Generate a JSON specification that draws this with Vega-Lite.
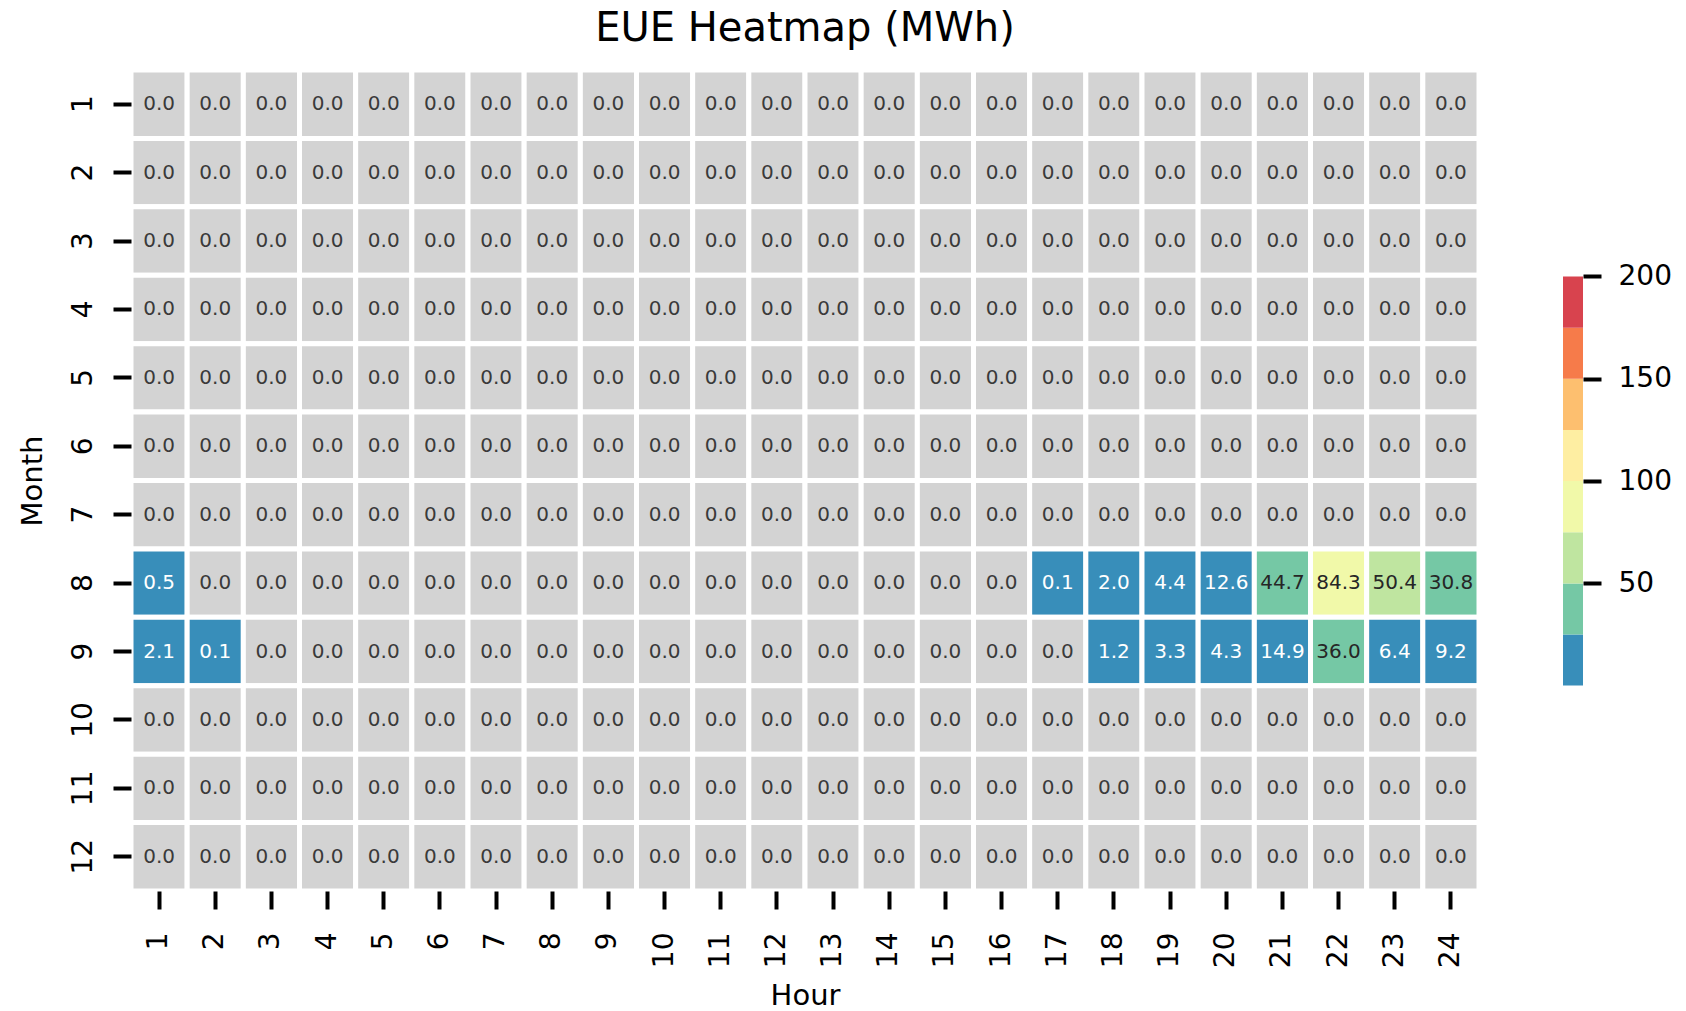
{
 "$schema": "https://vega.github.io/schema/vega-lite/v6.json",
 "padding": {"left": 17, "top": 8, "right": 5, "bottom": 2},
 "background": "white",
 "config": {"font": "DejaVu Sans", "view": {"stroke": null}},
 "bounds": "flush",
 "spacing": 84,
 "resolve": {"scale": {"color": "independent", "y": "independent"}},
 "hconcat": [
  {
   "title": {"text": "EUE Heatmap (MWh)", "fontSize": 40, "fontWeight": "normal", "baseline": "alphabetic", "offset": -13, "anchor": "middle", "color": "black"},
   "width": 1348,
   "height": 821,
   "data": {"values": [
{"Month":1,"Hour":1,"EUE":0},{"Month":1,"Hour":2,"EUE":0},{"Month":1,"Hour":3,"EUE":0},{"Month":1,"Hour":4,"EUE":0},{"Month":1,"Hour":5,"EUE":0},{"Month":1,"Hour":6,"EUE":0},{"Month":1,"Hour":7,"EUE":0},{"Month":1,"Hour":8,"EUE":0},{"Month":1,"Hour":9,"EUE":0},{"Month":1,"Hour":10,"EUE":0},{"Month":1,"Hour":11,"EUE":0},{"Month":1,"Hour":12,"EUE":0},{"Month":1,"Hour":13,"EUE":0},{"Month":1,"Hour":14,"EUE":0},{"Month":1,"Hour":15,"EUE":0},{"Month":1,"Hour":16,"EUE":0},{"Month":1,"Hour":17,"EUE":0},{"Month":1,"Hour":18,"EUE":0},{"Month":1,"Hour":19,"EUE":0},{"Month":1,"Hour":20,"EUE":0},{"Month":1,"Hour":21,"EUE":0},{"Month":1,"Hour":22,"EUE":0},{"Month":1,"Hour":23,"EUE":0},{"Month":1,"Hour":24,"EUE":0},
{"Month":2,"Hour":1,"EUE":0},{"Month":2,"Hour":2,"EUE":0},{"Month":2,"Hour":3,"EUE":0},{"Month":2,"Hour":4,"EUE":0},{"Month":2,"Hour":5,"EUE":0},{"Month":2,"Hour":6,"EUE":0},{"Month":2,"Hour":7,"EUE":0},{"Month":2,"Hour":8,"EUE":0},{"Month":2,"Hour":9,"EUE":0},{"Month":2,"Hour":10,"EUE":0},{"Month":2,"Hour":11,"EUE":0},{"Month":2,"Hour":12,"EUE":0},{"Month":2,"Hour":13,"EUE":0},{"Month":2,"Hour":14,"EUE":0},{"Month":2,"Hour":15,"EUE":0},{"Month":2,"Hour":16,"EUE":0},{"Month":2,"Hour":17,"EUE":0},{"Month":2,"Hour":18,"EUE":0},{"Month":2,"Hour":19,"EUE":0},{"Month":2,"Hour":20,"EUE":0},{"Month":2,"Hour":21,"EUE":0},{"Month":2,"Hour":22,"EUE":0},{"Month":2,"Hour":23,"EUE":0},{"Month":2,"Hour":24,"EUE":0},
{"Month":3,"Hour":1,"EUE":0},{"Month":3,"Hour":2,"EUE":0},{"Month":3,"Hour":3,"EUE":0},{"Month":3,"Hour":4,"EUE":0},{"Month":3,"Hour":5,"EUE":0},{"Month":3,"Hour":6,"EUE":0},{"Month":3,"Hour":7,"EUE":0},{"Month":3,"Hour":8,"EUE":0},{"Month":3,"Hour":9,"EUE":0},{"Month":3,"Hour":10,"EUE":0},{"Month":3,"Hour":11,"EUE":0},{"Month":3,"Hour":12,"EUE":0},{"Month":3,"Hour":13,"EUE":0},{"Month":3,"Hour":14,"EUE":0},{"Month":3,"Hour":15,"EUE":0},{"Month":3,"Hour":16,"EUE":0},{"Month":3,"Hour":17,"EUE":0},{"Month":3,"Hour":18,"EUE":0},{"Month":3,"Hour":19,"EUE":0},{"Month":3,"Hour":20,"EUE":0},{"Month":3,"Hour":21,"EUE":0},{"Month":3,"Hour":22,"EUE":0},{"Month":3,"Hour":23,"EUE":0},{"Month":3,"Hour":24,"EUE":0},
{"Month":4,"Hour":1,"EUE":0},{"Month":4,"Hour":2,"EUE":0},{"Month":4,"Hour":3,"EUE":0},{"Month":4,"Hour":4,"EUE":0},{"Month":4,"Hour":5,"EUE":0},{"Month":4,"Hour":6,"EUE":0},{"Month":4,"Hour":7,"EUE":0},{"Month":4,"Hour":8,"EUE":0},{"Month":4,"Hour":9,"EUE":0},{"Month":4,"Hour":10,"EUE":0},{"Month":4,"Hour":11,"EUE":0},{"Month":4,"Hour":12,"EUE":0},{"Month":4,"Hour":13,"EUE":0},{"Month":4,"Hour":14,"EUE":0},{"Month":4,"Hour":15,"EUE":0},{"Month":4,"Hour":16,"EUE":0},{"Month":4,"Hour":17,"EUE":0},{"Month":4,"Hour":18,"EUE":0},{"Month":4,"Hour":19,"EUE":0},{"Month":4,"Hour":20,"EUE":0},{"Month":4,"Hour":21,"EUE":0},{"Month":4,"Hour":22,"EUE":0},{"Month":4,"Hour":23,"EUE":0},{"Month":4,"Hour":24,"EUE":0},
{"Month":5,"Hour":1,"EUE":0},{"Month":5,"Hour":2,"EUE":0},{"Month":5,"Hour":3,"EUE":0},{"Month":5,"Hour":4,"EUE":0},{"Month":5,"Hour":5,"EUE":0},{"Month":5,"Hour":6,"EUE":0},{"Month":5,"Hour":7,"EUE":0},{"Month":5,"Hour":8,"EUE":0},{"Month":5,"Hour":9,"EUE":0},{"Month":5,"Hour":10,"EUE":0},{"Month":5,"Hour":11,"EUE":0},{"Month":5,"Hour":12,"EUE":0},{"Month":5,"Hour":13,"EUE":0},{"Month":5,"Hour":14,"EUE":0},{"Month":5,"Hour":15,"EUE":0},{"Month":5,"Hour":16,"EUE":0},{"Month":5,"Hour":17,"EUE":0},{"Month":5,"Hour":18,"EUE":0},{"Month":5,"Hour":19,"EUE":0},{"Month":5,"Hour":20,"EUE":0},{"Month":5,"Hour":21,"EUE":0},{"Month":5,"Hour":22,"EUE":0},{"Month":5,"Hour":23,"EUE":0},{"Month":5,"Hour":24,"EUE":0},
{"Month":6,"Hour":1,"EUE":0},{"Month":6,"Hour":2,"EUE":0},{"Month":6,"Hour":3,"EUE":0},{"Month":6,"Hour":4,"EUE":0},{"Month":6,"Hour":5,"EUE":0},{"Month":6,"Hour":6,"EUE":0},{"Month":6,"Hour":7,"EUE":0},{"Month":6,"Hour":8,"EUE":0},{"Month":6,"Hour":9,"EUE":0},{"Month":6,"Hour":10,"EUE":0},{"Month":6,"Hour":11,"EUE":0},{"Month":6,"Hour":12,"EUE":0},{"Month":6,"Hour":13,"EUE":0},{"Month":6,"Hour":14,"EUE":0},{"Month":6,"Hour":15,"EUE":0},{"Month":6,"Hour":16,"EUE":0},{"Month":6,"Hour":17,"EUE":0},{"Month":6,"Hour":18,"EUE":0},{"Month":6,"Hour":19,"EUE":0},{"Month":6,"Hour":20,"EUE":0},{"Month":6,"Hour":21,"EUE":0},{"Month":6,"Hour":22,"EUE":0},{"Month":6,"Hour":23,"EUE":0},{"Month":6,"Hour":24,"EUE":0},
{"Month":7,"Hour":1,"EUE":0},{"Month":7,"Hour":2,"EUE":0},{"Month":7,"Hour":3,"EUE":0},{"Month":7,"Hour":4,"EUE":0},{"Month":7,"Hour":5,"EUE":0},{"Month":7,"Hour":6,"EUE":0},{"Month":7,"Hour":7,"EUE":0},{"Month":7,"Hour":8,"EUE":0},{"Month":7,"Hour":9,"EUE":0},{"Month":7,"Hour":10,"EUE":0},{"Month":7,"Hour":11,"EUE":0},{"Month":7,"Hour":12,"EUE":0},{"Month":7,"Hour":13,"EUE":0},{"Month":7,"Hour":14,"EUE":0},{"Month":7,"Hour":15,"EUE":0},{"Month":7,"Hour":16,"EUE":0},{"Month":7,"Hour":17,"EUE":0},{"Month":7,"Hour":18,"EUE":0},{"Month":7,"Hour":19,"EUE":0},{"Month":7,"Hour":20,"EUE":0},{"Month":7,"Hour":21,"EUE":0},{"Month":7,"Hour":22,"EUE":0},{"Month":7,"Hour":23,"EUE":0},{"Month":7,"Hour":24,"EUE":0},
{"Month":8,"Hour":1,"EUE":0.5},{"Month":8,"Hour":2,"EUE":0},{"Month":8,"Hour":3,"EUE":0},{"Month":8,"Hour":4,"EUE":0},{"Month":8,"Hour":5,"EUE":0},{"Month":8,"Hour":6,"EUE":0},{"Month":8,"Hour":7,"EUE":0},{"Month":8,"Hour":8,"EUE":0},{"Month":8,"Hour":9,"EUE":0},{"Month":8,"Hour":10,"EUE":0},{"Month":8,"Hour":11,"EUE":0},{"Month":8,"Hour":12,"EUE":0},{"Month":8,"Hour":13,"EUE":0},{"Month":8,"Hour":14,"EUE":0},{"Month":8,"Hour":15,"EUE":0},{"Month":8,"Hour":16,"EUE":0},{"Month":8,"Hour":17,"EUE":0.1},{"Month":8,"Hour":18,"EUE":2.0},{"Month":8,"Hour":19,"EUE":4.4},{"Month":8,"Hour":20,"EUE":12.6},{"Month":8,"Hour":21,"EUE":44.7},{"Month":8,"Hour":22,"EUE":84.3},{"Month":8,"Hour":23,"EUE":50.4},{"Month":8,"Hour":24,"EUE":30.8},
{"Month":9,"Hour":1,"EUE":2.1},{"Month":9,"Hour":2,"EUE":0.1},{"Month":9,"Hour":3,"EUE":0},{"Month":9,"Hour":4,"EUE":0},{"Month":9,"Hour":5,"EUE":0},{"Month":9,"Hour":6,"EUE":0},{"Month":9,"Hour":7,"EUE":0},{"Month":9,"Hour":8,"EUE":0},{"Month":9,"Hour":9,"EUE":0},{"Month":9,"Hour":10,"EUE":0},{"Month":9,"Hour":11,"EUE":0},{"Month":9,"Hour":12,"EUE":0},{"Month":9,"Hour":13,"EUE":0},{"Month":9,"Hour":14,"EUE":0},{"Month":9,"Hour":15,"EUE":0},{"Month":9,"Hour":16,"EUE":0},{"Month":9,"Hour":17,"EUE":0},{"Month":9,"Hour":18,"EUE":1.2},{"Month":9,"Hour":19,"EUE":3.3},{"Month":9,"Hour":20,"EUE":4.3},{"Month":9,"Hour":21,"EUE":14.9},{"Month":9,"Hour":22,"EUE":36.0},{"Month":9,"Hour":23,"EUE":6.4},{"Month":9,"Hour":24,"EUE":9.2},
{"Month":10,"Hour":1,"EUE":0},{"Month":10,"Hour":2,"EUE":0},{"Month":10,"Hour":3,"EUE":0},{"Month":10,"Hour":4,"EUE":0},{"Month":10,"Hour":5,"EUE":0},{"Month":10,"Hour":6,"EUE":0},{"Month":10,"Hour":7,"EUE":0},{"Month":10,"Hour":8,"EUE":0},{"Month":10,"Hour":9,"EUE":0},{"Month":10,"Hour":10,"EUE":0},{"Month":10,"Hour":11,"EUE":0},{"Month":10,"Hour":12,"EUE":0},{"Month":10,"Hour":13,"EUE":0},{"Month":10,"Hour":14,"EUE":0},{"Month":10,"Hour":15,"EUE":0},{"Month":10,"Hour":16,"EUE":0},{"Month":10,"Hour":17,"EUE":0},{"Month":10,"Hour":18,"EUE":0},{"Month":10,"Hour":19,"EUE":0},{"Month":10,"Hour":20,"EUE":0},{"Month":10,"Hour":21,"EUE":0},{"Month":10,"Hour":22,"EUE":0},{"Month":10,"Hour":23,"EUE":0},{"Month":10,"Hour":24,"EUE":0},
{"Month":11,"Hour":1,"EUE":0},{"Month":11,"Hour":2,"EUE":0},{"Month":11,"Hour":3,"EUE":0},{"Month":11,"Hour":4,"EUE":0},{"Month":11,"Hour":5,"EUE":0},{"Month":11,"Hour":6,"EUE":0},{"Month":11,"Hour":7,"EUE":0},{"Month":11,"Hour":8,"EUE":0},{"Month":11,"Hour":9,"EUE":0},{"Month":11,"Hour":10,"EUE":0},{"Month":11,"Hour":11,"EUE":0},{"Month":11,"Hour":12,"EUE":0},{"Month":11,"Hour":13,"EUE":0},{"Month":11,"Hour":14,"EUE":0},{"Month":11,"Hour":15,"EUE":0},{"Month":11,"Hour":16,"EUE":0},{"Month":11,"Hour":17,"EUE":0},{"Month":11,"Hour":18,"EUE":0},{"Month":11,"Hour":19,"EUE":0},{"Month":11,"Hour":20,"EUE":0},{"Month":11,"Hour":21,"EUE":0},{"Month":11,"Hour":22,"EUE":0},{"Month":11,"Hour":23,"EUE":0},{"Month":11,"Hour":24,"EUE":0},
{"Month":12,"Hour":1,"EUE":0},{"Month":12,"Hour":2,"EUE":0},{"Month":12,"Hour":3,"EUE":0},{"Month":12,"Hour":4,"EUE":0},{"Month":12,"Hour":5,"EUE":0},{"Month":12,"Hour":6,"EUE":0},{"Month":12,"Hour":7,"EUE":0},{"Month":12,"Hour":8,"EUE":0},{"Month":12,"Hour":9,"EUE":0},{"Month":12,"Hour":10,"EUE":0},{"Month":12,"Hour":11,"EUE":0},{"Month":12,"Hour":12,"EUE":0},{"Month":12,"Hour":13,"EUE":0},{"Month":12,"Hour":14,"EUE":0},{"Month":12,"Hour":15,"EUE":0},{"Month":12,"Hour":16,"EUE":0},{"Month":12,"Hour":17,"EUE":0},{"Month":12,"Hour":18,"EUE":0},{"Month":12,"Hour":19,"EUE":0},{"Month":12,"Hour":20,"EUE":0},{"Month":12,"Hour":21,"EUE":0},{"Month":12,"Hour":22,"EUE":0},{"Month":12,"Hour":23,"EUE":0},{"Month":12,"Hour":24,"EUE":0}
   ]},
   "encoding": {
    "x": {"field": "Hour", "type": "ordinal", "sort": "ascending", "scale": {"paddingInner": 0, "paddingOuter": 0},
     "axis": {"orient": "bottom", "labelAngle": -90, "labelAlign": "right", "labelBaseline": "middle", "labelFontSize": 28, "labelColor": "black", "labelPadding": 23, "tickSize": 18, "tickWidth": 4, "tickColor": "black", "domain": false, "grid": false, "title": "Hour", "titleFontSize": 29, "titleFontWeight": "normal", "titleColor": "black", "titlePadding": 14}},
    "y": {"field": "Month", "type": "ordinal", "sort": "ascending", "scale": {"paddingInner": 0, "paddingOuter": 0},
     "axis": {"orient": "left", "labelAngle": -90, "labelAlign": "center", "labelBaseline": "alphabetic", "labelFontSize": 28, "labelColor": "black", "labelPadding": 22, "tickSize": 18, "tickWidth": 4, "tickColor": "black", "domain": false, "grid": false, "title": "Month", "titleFontSize": 29, "titleFontWeight": "normal", "titleColor": "black", "titlePadding": 28, "titleBaseline": "alphabetic"}}
   },
   "layer": [
    {"mark": {"type": "rect", "stroke": "white", "strokeWidth": 5},
     "encoding": {"color": {"condition": {"test": "datum.EUE == 0", "value": "#d3d3d3"}, "field": "EUE", "type": "quantitative",
      "scale": {"type": "threshold", "domain": [25, 50, 75, 100, 125, 150, 175], "range": ["#388eba", "#75c8a5", "#bfe5a0", "#f1f9a9", "#feeea2", "#fdbf6f", "#f67b4a", "#d8434e"]}, "legend": null}}},
    {"mark": {"type": "text", "fontSize": 20},
     "encoding": {"text": {"field": "EUE", "type": "quantitative", "format": ".1f"},
      "color": {"condition": [{"test": "datum.EUE >= 25", "value": "#262626"}, {"test": "datum.EUE > 0", "value": "#ffffff"}], "value": "#3a3a3a"}}}
   ]
  },
  {
   "width": 20,
   "height": 821,
   "data": {"values": [
    {"lo": 0.1, "hi": 25}, {"lo": 25, "hi": 50}, {"lo": 50, "hi": 75}, {"lo": 75, "hi": 100},
    {"lo": 100, "hi": 125}, {"lo": 125, "hi": 150}, {"lo": 150, "hi": 175}, {"lo": 175, "hi": 200}
   ]},
   "mark": {"type": "rect"},
   "encoding": {
    "y": {"field": "lo", "type": "quantitative", "scale": {"domain": [-100.3, 300.9], "nice": false, "zero": false},
     "axis": {"orient": "right", "values": [50, 100, 150, 200], "title": null, "domain": false, "grid": false, "tickSize": 18, "tickWidth": 4, "tickColor": "black", "labelFontSize": 28, "labelColor": "black", "labelPadding": 17}},
    "y2": {"field": "hi"},
    "color": {"field": "lo", "type": "quantitative",
     "scale": {"type": "threshold", "domain": [25, 50, 75, 100, 125, 150, 175], "range": ["#388eba", "#75c8a5", "#bfe5a0", "#f1f9a9", "#feeea2", "#fdbf6f", "#f67b4a", "#d8434e"]}, "legend": null}
   }
  }
 ]
}
